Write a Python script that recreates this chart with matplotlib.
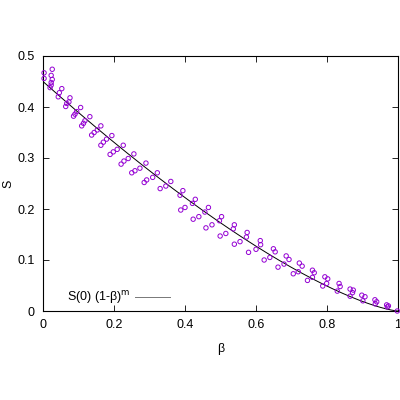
import numpy as np
import matplotlib
matplotlib.use('Agg')
import matplotlib.pyplot as plt

plt.rcParams['font.family'] = ['Liberation Sans', 'DejaVu Sans']

# measured points (beta, S)
beta = [0.003, 0.003, 0.026, 0.023, 0.026, 0.023, 0.023, 0.020,
        0.053, 0.046, 0.043, 0.076, 0.073, 0.067, 0.064,
        0.106, 0.095, 0.090, 0.086, 0.132, 0.118, 0.114, 0.109,
        0.163, 0.153, 0.144, 0.137, 0.194, 0.179, 0.170, 0.163,
        0.226, 0.209, 0.198, 0.189, 0.256, 0.240, 0.228, 0.220,
        0.290, 0.273, 0.259, 0.250, 0.322, 0.309, 0.292, 0.285,
        0.360, 0.346, 0.330, 0.394, 0.386, 0.388, 0.400, 0.421, 0.429,
        0.423, 0.439, 0.456, 0.466, 0.459, 0.476, 0.497, 0.503,
        0.499, 0.515, 0.536, 0.539, 0.539, 0.555, 0.573, 0.575,
        0.579, 0.600, 0.613, 0.612, 0.623, 0.639, 0.654, 0.649,
        0.662, 0.679, 0.693, 0.685, 0.705, 0.719, 0.730, 0.722,
        0.745, 0.759, 0.764, 0.759, 0.788, 0.799, 0.802, 0.794,
        0.829, 0.837, 0.834, 0.865, 0.872, 0.874, 0.865,
        0.901, 0.907, 0.898, 0.936, 0.940, 0.935, 0.970, 0.973, 0.968, 0.998]
S = [0.467, 0.456, 0.474, 0.462, 0.454, 0.448, 0.443, 0.438,
     0.436, 0.428, 0.420, 0.418, 0.410, 0.407, 0.401,
     0.399, 0.391, 0.386, 0.382, 0.381, 0.373, 0.368, 0.363,
     0.363, 0.355, 0.350, 0.345, 0.344, 0.337, 0.331, 0.325,
     0.325, 0.317, 0.312, 0.307, 0.308, 0.299, 0.294, 0.288,
     0.290, 0.280, 0.275, 0.271, 0.271, 0.262, 0.257, 0.252,
     0.254, 0.245, 0.240, 0.236, 0.227, 0.198, 0.203, 0.211, 0.219,
     0.180, 0.185, 0.194, 0.203, 0.163, 0.169, 0.177, 0.185,
     0.147, 0.152, 0.161, 0.169, 0.131, 0.136, 0.145, 0.154,
     0.115, 0.121, 0.130, 0.138, 0.100, 0.105, 0.116, 0.122,
     0.086, 0.092, 0.101, 0.108, 0.073, 0.077, 0.088, 0.094,
     0.060, 0.066, 0.075, 0.080, 0.049, 0.054, 0.063, 0.067,
     0.039, 0.048, 0.054, 0.029, 0.036, 0.041, 0.043,
     0.020, 0.028, 0.031, 0.014, 0.018, 0.022, 0.008, 0.010, 0.012, 0.000]

# fit parameters
S0 = 0.45
m = 1.38

fig = plt.figure(figsize=(4, 4), dpi=100)
ax = fig.add_axes([0.1075, 0.2225, 0.8875, 0.6375])

ax.scatter(beta, S, s=10, facecolors='none', edgecolors='#9400d3', linewidths=0.7,
           zorder=3, clip_on=False)

xf = np.linspace(0, 1, 300)
line, = ax.plot(xf, S0 * (1 - xf) ** m, color='black', lw=0.7)

ax.set_xlim(0, 1)
ax.set_ylim(0, 0.5)
ax.set_xticks([0, 0.2, 0.4, 0.6, 0.8, 1])
ax.set_xticklabels(['0', '0.2', '0.4', '0.6', '0.8', '1'])
ax.set_yticks([0, 0.1, 0.2, 0.3, 0.4, 0.5])
ax.set_yticklabels(['0', '0.1', '0.2', '0.3', '0.4', '0.5'])
ax.tick_params(direction='in', top=True, right=True, length=4, width=0.6,
               labelsize=9, pad=6)
for sp in ax.spines.values():
    sp.set_linewidth(0.8)

ax.set_xlabel('β', fontsize=9)
ax.xaxis.set_label_coords(0.5, -0.125)
ax.set_ylabel('S', fontsize=9, va='center')
ax.yaxis.set_label_coords(-0.098, 0.5)

leg = ax.legend([line], [r'S(0) (1-β)$^{\mathrm{m}}$'], loc='lower left',
                bbox_to_anchor=(0.035, -0.025), frameon=False, fontsize=9,
                markerfirst=False, handlelength=2.8, handletextpad=0.4)
leg.get_lines()[0].set_color('#777777')

fig.savefig('out.png', dpi=100)
